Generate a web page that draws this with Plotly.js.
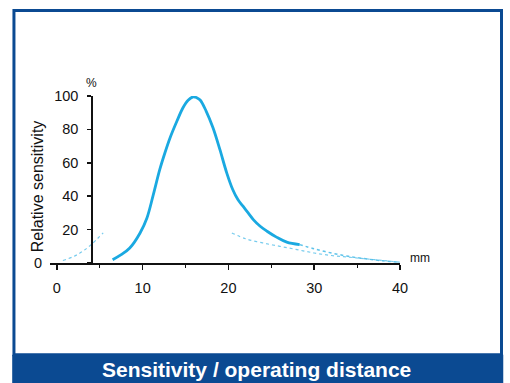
<!DOCTYPE html>
<html><head><meta charset="utf-8">
<script src="https://cdn.plot.ly/plotly-3.0.1.min.js"></script>
<style>html,body{margin:0;padding:0;background:#fff;}#chart{width:510px;height:383px;}</style>
</head><body><div id="chart"></div>
<script>
// Main sensitivity curve (solid part)
const distMain = [6.5, 7.5, 8.5, 9.7, 10.5, 11.2, 12.0, 12.6, 13.2, 14.0, 14.7, 15.3, 15.9, 16.3, 16.7, 17.4, 18.2, 19.0, 19.8, 20.5, 21.1, 21.7, 22.3, 22.9, 23.7, 24.5, 25.6, 26.8, 28.3];
const sensMain = [2, 5, 9, 18, 27, 40, 56, 66, 75, 85, 93, 97.5, 99.5, 99, 97.6, 91, 81, 68, 54, 44, 38, 34, 30, 26, 22, 19, 15.5, 12.5, 11];
// faint tail of the curve
const distTail = [28.3, 30, 32, 34, 36, 38, 40];
const sensTail = [11, 8.5, 6, 4, 2.5, 1.3, 0.5];
// faint lower dotted trace
const distLow = [20.4, 22, 24, 26, 28, 30, 32, 34, 36, 38, 40];
const sensLow = [18, 14.5, 12, 10, 8, 6, 4.5, 3.5, 2.5, 1.5, 0.5];
// faint left dotted trace
const distLeft = [0.7, 2, 3, 4, 5.4];
const sensLeft = [1.5, 4, 7, 11, 18];

const xTicks = [0, 10, 20, 30, 40];
const yTicks = [0, 20, 40, 60, 80, 100];
const yTickText = ['', '20', '40', '60', '80', '100'];

const blue = '#1aa9e1';
const navy = '#0b4a92';
const ink = '#111111';

const traces = [
  {x: distMain, y: sensMain, mode: 'lines', line: {color: blue, width: 2.8, shape: 'spline'}, hoverinfo: 'none'},
  {x: distTail, y: sensTail, mode: 'lines', line: {color: blue, width: 1.5, dash: 'dot', shape: 'spline'}, opacity: 0.7, hoverinfo: 'none'},
  {x: distLow, y: sensLow, mode: 'lines', line: {color: blue, width: 1.2, dash: 'dot', shape: 'spline'}, opacity: 0.6, hoverinfo: 'none'},
  {x: distLeft, y: sensLeft, mode: 'lines', line: {color: blue, width: 1.2, dash: 'dot', shape: 'spline'}, opacity: 0.6, hoverinfo: 'none'}
];

const layout = {
  width: 510, height: 383,
  margin: {l: 50, r: 110, t: 96, b: 120},
  paper_bgcolor: '#ffffff', plot_bgcolor: 'rgba(0,0,0,0)',
  showlegend: false,
  font: {family: 'Liberation Sans, Arial, sans-serif', size: 14, color: ink},
  xaxis: {
    range: [-0.8, 40], showgrid: false, zeroline: false,
    showline: true, linecolor: ink, linewidth: 1.5,
    tickmode: 'array', tickvals: xTicks, ticktext: xTicks.map(String),
    ticks: 'outside', ticklen: 5, tickwidth: 1.6, tickcolor: ink,
    minor: {dtick: 5, tick0: 0, ticks: 'outside', ticklen: 3, tickwidth: 1.2, tickcolor: ink},
    tickfont: {size: 14.5, color: ink}, ticklabelstandoff: 6
  },
  yaxis: {
    range: [0, 100], showgrid: false, zeroline: false,
    anchor: 'free', position: 0.118,
    showline: true, linecolor: ink, linewidth: 1.5,
    tickmode: 'array', tickvals: yTicks, ticktext: yTickText,
    ticks: 'outside', ticklen: 4, tickwidth: 1.6, tickcolor: ink,
    tickfont: {size: 14.5, color: ink}, ticklabelstandoff: 6
  },
  shapes: [
    {type: 'rect', xref: 'paper', yref: 'paper', x0: -0.103, x1: 1.29, y0: -0.55, y1: 1.512,
     line: {color: navy, width: 3}, fillcolor: 'rgba(0,0,0,0)', layer: 'below'},
    {type: 'rect', xref: 'paper', yref: 'paper', x0: -0.108, x1: 1.295, y0: -0.725, y1: -0.55,
     line: {width: 0}, fillcolor: navy, layer: 'below'}
  ],
  annotations: [
    {text: 'Sensitivity / operating distance', xref: 'paper', yref: 'paper', x: 0.589, y: -0.635,
     xanchor: 'center', yanchor: 'middle',
     showarrow: false, font: {family: 'Liberation Sans, Arial, sans-serif', size: 21, color: '#ffffff', weight: 'bold'}},
    {text: 'Relative sensitivity', xref: 'paper', yref: 'paper', x: -0.037, y: 0.46, textangle: -90,
     xanchor: 'center', yanchor: 'middle',
     showarrow: false, font: {size: 16, color: ink}},
    {text: '%', xref: 'paper', yref: 'paper', x: 0.118, y: 1.08, xanchor: 'center', yanchor: 'middle',
     showarrow: false, font: {size: 12, color: ink}},
    {text: '0', xref: 'paper', yref: 'paper', x: -0.035, y: 0, xanchor: 'center', yanchor: 'middle',
     showarrow: false, font: {size: 14.5, color: ink}},
    {text: 'mm', xref: 'paper', yref: 'paper', x: 1.057, y: 0.03, xanchor: 'center', yanchor: 'middle',
     showarrow: false, font: {size: 12, color: ink}}
  ]
};

Plotly.newPlot('chart', traces, layout, {staticPlot: true, displayModeBar: false});
</script></body></html>
